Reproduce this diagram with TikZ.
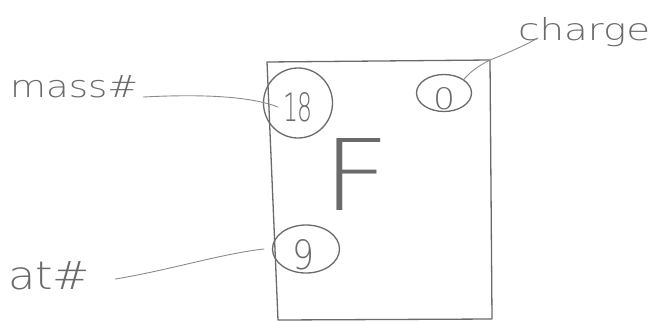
\documentclass[tikz,border=0pt]{standalone}
\usepackage{fontspec}
\setmainfont{DejaVu Sans ExtraLight}
\usetikzlibrary{shapes.geometric}
\definecolor{pencil}{HTML}{6A6A6A}
\definecolor{lightpencil}{HTML}{8C8C8C}
\begin{document}
\begin{tikzpicture}[x=1pt,y=-1pt,
  pen/.style={draw=pencil,line width=1.3pt,line cap=round,line join=round},
  thin pen/.style={draw=lightpencil,line width=0.9pt,line cap=round},
  txt/.style={text=pencil,inner sep=0pt},
  ring/.style={pen,ellipse,inner sep=0pt}]
\useasboundingbox (0,0) rectangle (652,322);
\fill[white] (0,0) rectangle (652,322);
% element box
\coordinate (tl) at (267,62);
\coordinate (tr) at (490,60);
\coordinate (br) at (492,319);
\coordinate (bl) at (278,320);
\draw[pen] (tl) -- (tr) -- (br) -- (bl) -- cycle;
% symbol
\node[txt] (el) at (357,174) {\resizebox{68pt}{72pt}{F}};
% circled numbers
\node[ring,minimum width=69pt,minimum height=70pt] (e18) at (298,103) {};
\node[txt] (t18) at (298,107) {\resizebox{30pt}{29pt}{18}};
\node[ring,minimum width=55pt,minimum height=37pt] (e0) at (444,93) {};
\node[txt] (t0) at (444,99) {\resizebox{22pt}{22pt}{0}};
\node[ring,minimum width=67pt,minimum height=48pt] (e9) at (306,249) {};
\node[txt] (t9) at (303,255) {\resizebox{22pt}{30pt}{9}};
% labels
\node[txt,anchor=base west] (mass) at (10,97) {\resizebox{128pt}{22pt}{mass\#}};
\node[txt,anchor=base west] (charge) at (518,40) {\resizebox{132pt}{23pt}{charge}};
\node[txt,anchor=base west] (at) at (8,289) {\resizebox{82pt}{28pt}{at\#}};
% connectors
\draw[thin pen] ([xshift=5pt]mass.base east) .. controls (200,94) and (250,96) .. ([xshift=-5pt]t18.west);
\draw[thin pen] ([xshift=20pt,yshift=2pt]charge.base west) .. controls (520,48) and (500,56) .. (tr)
  .. controls (478,66) and (470,72) .. (e0.north east);
\draw[thin pen] ([xshift=25pt,yshift=10pt]at.base east) .. controls (170,270) and (220,254) .. ([xshift=-8pt]e9.west);
\end{tikzpicture}
\end{document}
